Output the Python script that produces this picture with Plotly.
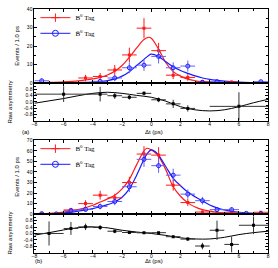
import plotly.graph_objects as go

W, H = 278, 268

# ---------------- Panel (a) data ----------------
a_red_x = [-4.5, -3.5, -2.5, -1.5, -0.5, 0.5, 1.5, 2.5, 3.5, 5.5]
a_red_y = [2.8, 3.6, 7.1, 15.2, 29.6, 17.5, 4.3, 3.1, 0.8, 0.6]
a_red_e = [1.7, 1.9, 2.7, 3.9, 5.4, 4.2, 2.1, 1.8, 0.9, 0.8]

a_blue_x = [-7.5, -3.5, -2.5, -1.5, -0.5, 0.5, 1.5, 2.5, 3.5, 4.5, 7.5]
a_blue_y = [1.3, 1.0, 2.8, 8.3, 9.7, 14.4, 8.3, 9.2, 0.5, 0.8, 0.8]
a_blue_e = [1.1, 1.0, 1.7, 2.9, 3.1, 3.8, 2.9, 3.0, 0.7, 0.9, 0.9]

a_fit_x = [-8, -7, -6, -5, -4.5, -4, -3.5, -3, -2.5, -2, -1.5, -1, -0.5, -0.2, 0, 0.5, 1, 1.5, 2, 2.5, 3, 3.5, 4, 5, 6, 7, 8]
a_red_fit = [0.2, 0.4, 0.7, 1.2, 1.7, 2.3, 3.1, 4.4, 6.4, 9.5, 14.0, 19.0, 23.5, 24.7, 24.2, 18.3, 11.0, 6.2, 3.8, 2.2, 1.3, 0.8, 0.5, 0.2, 0.1, 0.05, 0.02]
a_blue_fit = [0.05, 0.1, 0.15, 0.3, 0.45, 0.6, 0.9, 1.4, 2.3, 3.8, 6.2, 9.5, 12.8, 14.8, 15.6, 14.3, 11.5, 8.8, 6.8, 5.3, 3.9, 2.8, 2.0, 1.1, 0.55, 0.3, 0.15]

a_asym_x = [-6, -3.5, -2.5, -1.5, -0.5, 0.5, 1.5, 2.5, 6]
a_asym_y = [0.5, 0.5, 0.4, 0.3, 0.55, 0.14, -0.12, -0.41, -0.28]
a_asym_ex = [2, 0.5, 0.5, 0.5, 0.5, 0.5, 0.5, 0.5, 2]
a_asym_ey = [0.5, 0.47, 0.2, 0.15, 0.12, 0.15, 0.26, 0.2, 0.9]

a_afit_x = [-8, -7, -6, -5, -4, -3, -2, -1, 0, 1, 2, 3, 4, 5, 6, 7, 8]
a_afit_y = [-0.08, 0.07, 0.22, 0.4, 0.55, 0.62, 0.55, 0.42, 0.3, 0.05, -0.3, -0.5, -0.57, -0.5, -0.3, -0.05, 0.17]

# ---------------- Panel (b) data ----------------
b_red_x = [-7.5, -5.5, -4.5, -3.5, -2.5, -1.5, -0.5, 0.5, 1.5, 2.5, 3.5, 4.5, 5.5, 7.5]
b_red_y = [0.5, 4.0, 10.0, 18.0, 15.5, 30.0, 57.0, 56.0, 27.5, 11.0, 2.0, 1.0, 1.8, 1.8]
b_red_e = [0.7, 2.0, 3.2, 4.2, 3.9, 5.5, 7.5, 7.5, 5.2, 3.3, 1.4, 1.0, 1.3, 1.3]

b_blue_x = [-7.5, -6.5, -5.5, -4.5, -3.5, -2.5, -1.5, -0.5, 0.5, 1.5, 2.5, 3.5, 4.5, 5.5, 6.5, 7.5]
b_blue_y = [0.5, 0.3, 3.5, 4.5, 7.3, 12.0, 26.0, 52.0, 46.0, 37.0, 19.0, 12.8, 4.3, 4.3, 0.8, 0.5]
b_blue_e = [0.7, 0.5, 1.9, 2.1, 2.7, 3.5, 5.1, 7.2, 6.8, 6.1, 4.4, 3.6, 2.1, 2.1, 0.9, 0.7]

b_fit_x = [-8, -7, -6, -5, -4, -3.5, -3, -2.5, -2, -1.5, -1, -0.5, -0.3, 0, 0.3, 0.5, 1, 1.5, 2, 2.5, 3, 3.5, 4, 4.5, 5, 5.5, 6, 6.5, 7, 8]
b_red_fit = [0.3, 0.8, 2.0, 4.3, 8.5, 11.5, 14.5, 18.0, 24.0, 33.0, 47.0, 60.0, 62.5, 61.0, 58.0, 55.0, 42.0, 26.0, 17.0, 10.7, 6.8, 4.3, 2.8, 1.8, 1.2, 0.7, 0.45, 0.3, 0.2, 0.1]
b_blue_fit = [0.1, 0.3, 1.0, 2.8, 5.3, 7.0, 9.0, 11.5, 16.0, 24.0, 37.0, 52.0, 57.0, 61.0, 59.0, 56.0, 45.0, 34.0, 27.0, 21.0, 16.5, 12.5, 8.7, 6.0, 4.0, 2.7, 1.8, 1.2, 0.8, 0.4]

b_asym_x = [-7, -5.5, -4.5, -3.5, -2.5, -1.5, -0.5, 0.5, 1.5, 2.5, 3.5, 4.5, 5.5, 7]
b_asym_y = [0.0, 0.31, 0.41, 0.37, 0.14, 0.06, 0.04, 0.05, -0.2, -0.35, -0.78, 0.2, -0.68, 0.51]
b_asym_ex = [1, 0.5, 0.5, 0.5, 0.5, 0.5, 0.5, 0.5, 0.5, 0.5, 0.5, 0.5, 0.5, 1]
b_asym_ey = [0.75, 0.4, 0.2, 0.15, 0.12, 0.1, 0.05, 0.05, 0.08, 0.12, 0.2, 0.6, 0.5, 0.55]

b_afit_x = [-8, -7, -6, -5, -4, -3, -2, -1, 0, 1, 2, 3, 3.5, 4, 5, 6, 7, 8]
b_afit_y = [-0.1, 0.05, 0.22, 0.36, 0.41, 0.35, 0.2, 0.09, 0.0, -0.12, -0.27, -0.34, -0.35, -0.34, -0.24, -0.07, 0.05, 0.14]

event_ticks_a = [0, 10, 20, 30, 40]
event_ticks_b = [0, 10, 20, 30, 40, 50, 60, 70]
asym_ticks = [-0.8, -0.4, 0.0, 0.4, 0.8]
asym_ticktext = ["-0.8", "-0.4", "0.0", "0.4", "0.8"]
x_ticks = [-8, -6, -4, -2, 0, 2, 4, 6, 8]

tag_names = ["B<sup>0</sup> Tag", "B\u0304<sup>0</sup> Tag"]

RED = "#ff1a1a"
BLUE = "#1a1aff"

def px_x(p):
    return p / W

def px_y(p):
    return 1 - p / H

fig = go.Figure()

def add_events(xa, ya, rx, ry, re, bx, by, be, fx, rfit, bfit):
    fig.add_trace(go.Scatter(x=fx, y=rfit, mode="lines", line=dict(color=RED, width=1.2, shape="spline"),
                             xaxis=xa, yaxis=ya, showlegend=False, hoverinfo="skip"))
    fig.add_trace(go.Scatter(x=fx, y=bfit, mode="lines", line=dict(color=BLUE, width=1.2, shape="spline"),
                             xaxis=xa, yaxis=ya, showlegend=False, hoverinfo="skip"))
    fig.add_trace(go.Scatter(x=rx, y=ry, mode="markers",
                             marker=dict(symbol="square", size=3, color=RED),
                             error_x=dict(type="constant", value=0.5, width=0, thickness=1, color=RED),
                             error_y=dict(type="data", array=re, width=0, thickness=1, color=RED),
                             xaxis=xa, yaxis=ya, showlegend=False))
    fig.add_trace(go.Scatter(x=bx, y=by, mode="markers",
                             marker=dict(symbol="circle-open", size=4, color=BLUE, line=dict(width=1)),
                             error_x=dict(type="constant", value=0.5, width=0, thickness=1, color="#6060ff"),
                             error_y=dict(type="data", array=be, width=0, thickness=1, color="#6060ff"),
                             xaxis=xa, yaxis=ya, showlegend=False))

def add_asym(xa, ya, x, y, ex, ey, fx, fy):
    fig.add_trace(go.Scatter(x=fx, y=fy, mode="lines", line=dict(color="black", width=1, shape="spline"),
                             xaxis=xa, yaxis=ya, showlegend=False, hoverinfo="skip"))
    fig.add_trace(go.Scatter(x=x, y=y, mode="markers",
                             marker=dict(symbol="square", size=3, color="black"),
                             error_x=dict(type="data", array=ex, width=0, thickness=1, color="#333333"),
                             error_y=dict(type="data", array=ey, width=0, thickness=1, color="#333333"),
                             xaxis=xa, yaxis=ya, showlegend=False))

add_events("x", "y", a_red_x, a_red_y, a_red_e, a_blue_x, a_blue_y, a_blue_e, a_fit_x, a_red_fit, a_blue_fit)
add_asym("x2", "y2", a_asym_x, a_asym_y, a_asym_ex, a_asym_ey, a_afit_x, a_afit_y)
add_events("x3", "y3", b_red_x, b_red_y, b_red_e, b_blue_x, b_blue_y, b_blue_e, b_fit_x, b_red_fit, b_blue_fit)
add_asym("x4", "y4", b_asym_x, b_asym_y, b_asym_ex, b_asym_ey, b_afit_x, b_afit_y)

# legend-only traces, one legend per entry
legend_specs = [("legend", "x", "y", tag_names[0], RED, "cross-thin", 15),
                ("legend2", "x", "y", tag_names[1], BLUE, "circle-open", 31),
                ("legend3", "x3", "y3", tag_names[0], RED, "cross-thin", 149),
                ("legend4", "x3", "y3", tag_names[1], BLUE, "circle-open", 165)]
legend_layout = {}
for name, xa, ya, label, col, sym, ypx in legend_specs:
    fig.add_trace(go.Scatter(x=[None], y=[None], mode="lines+markers", name=label,
                             line=dict(color=col, width=1),
                             marker=dict(symbol=sym, size=6, color=col, line=dict(width=1, color=col)),
                             xaxis=xa, yaxis=ya, legend=name, showlegend=True))
    legend_layout[name] = dict(x=px_x(33), y=px_y(ypx), xanchor="left", yanchor="middle",
                               bgcolor="rgba(0,0,0,0)", borderwidth=0,
                               font=dict(family="Liberation Serif", size=7, color="black"),
                               itemwidth=30, tracegroupgap=0)

x_common = dict(range=[-8, 8], showline=True, linecolor="black", linewidth=1, mirror="allticks",
                ticks="inside", ticklen=3, tickwidth=0.8, tickcolor="black", tickvals=x_ticks,
                minor=dict(ticks="inside", ticklen=2, dtick=1, tickcolor="black", tickwidth=0.6),
                showgrid=False, zeroline=False,
                tickfont=dict(family="Liberation Sans", size=5, color="black"))

y_common = dict(showline=True, linecolor="black", linewidth=1, mirror="allticks",
                ticks="inside", ticklen=3, tickwidth=0.8, tickcolor="black",
                showgrid=False, zeroline=False,
                tickfont=dict(family="Liberation Sans", size=5, color="black"))

xd = [px_x(32), px_x(270)]
ya_ev = [px_y(82), px_y(6)]
ya_as = [px_y(120.5), px_y(82)]
yb_ev = [px_y(216), px_y(140.5)]
yb_as = [px_y(255.5), px_y(216)]

fig.update_layout(
    width=W, height=H, margin=dict(l=0, r=0, t=0, b=0),
    paper_bgcolor="white", plot_bgcolor="white",
    xaxis=dict(domain=xd, anchor="y", showticklabels=False, **x_common),
    yaxis=dict(domain=ya_ev, anchor="x", range=[0, 40], tickvals=event_ticks_a,
               minor=dict(ticks="inside", ticklen=2, dtick=5, tickcolor="black", tickwidth=0.6), **y_common),
    xaxis2=dict(domain=xd, anchor="y2", showticklabels=True, ticklabelstandoff=-2, **x_common),
    yaxis2=dict(domain=ya_as, anchor="x2", range=[-1.2, 1.2], tickvals=asym_ticks, ticktext=asym_ticktext,
                minor=dict(ticks="inside", ticklen=2, dtick=0.2, tickcolor="black", tickwidth=0.6), **y_common),
    xaxis3=dict(domain=xd, anchor="y3", showticklabels=False, **x_common),
    yaxis3=dict(domain=yb_ev, anchor="x3", range=[0, 70], tickvals=event_ticks_b,
                minor=dict(ticks="inside", ticklen=2, dtick=5, tickcolor="black", tickwidth=0.6), **y_common),
    xaxis4=dict(domain=xd, anchor="y4", showticklabels=True, ticklabelstandoff=-2, **x_common),
    yaxis4=dict(domain=yb_as, anchor="x4", range=[-1.2, 1.2], tickvals=asym_ticks, ticktext=asym_ticktext,
                minor=dict(ticks="inside", ticklen=2, dtick=0.2, tickcolor="black", tickwidth=0.6), **y_common),
    **legend_layout,
)

ann_font = dict(family="Liberation Sans", size=6, color="black")
annotations = [
    dict(text="Events / 1.0 ps", x=px_x(14), y=px_y(44), textangle=-90, font=ann_font),
    dict(text="Raw asymmetry", x=px_x(7), y=px_y(101), textangle=-90, font=ann_font),
    dict(text="Events / 1.0 ps", x=px_x(14), y=px_y(178), textangle=-90, font=ann_font),
    dict(text="Raw asymmetry", x=px_x(7), y=px_y(235), textangle=-90, font=ann_font),
    dict(text="\u0394t (ps)", x=px_x(154), y=px_y(132), font=ann_font),
    dict(text="\u0394t (ps)", x=px_x(154), y=px_y(264), font=ann_font),
    dict(text="(a)", x=px_x(23), y=px_y(132), font=ann_font),
    dict(text="(b)", x=px_x(36), y=px_y(264), font=ann_font),
]
for a in annotations:
    a.update(xref="paper", yref="paper", showarrow=False, xanchor="center", yanchor="middle")
fig.update_layout(annotations=annotations)

fig.write_html("out.html", config={"displayModeBar": False},
               post_script="document.body.style.margin='0';document.body.style.padding='0';document.body.style.overflow='hidden';")
